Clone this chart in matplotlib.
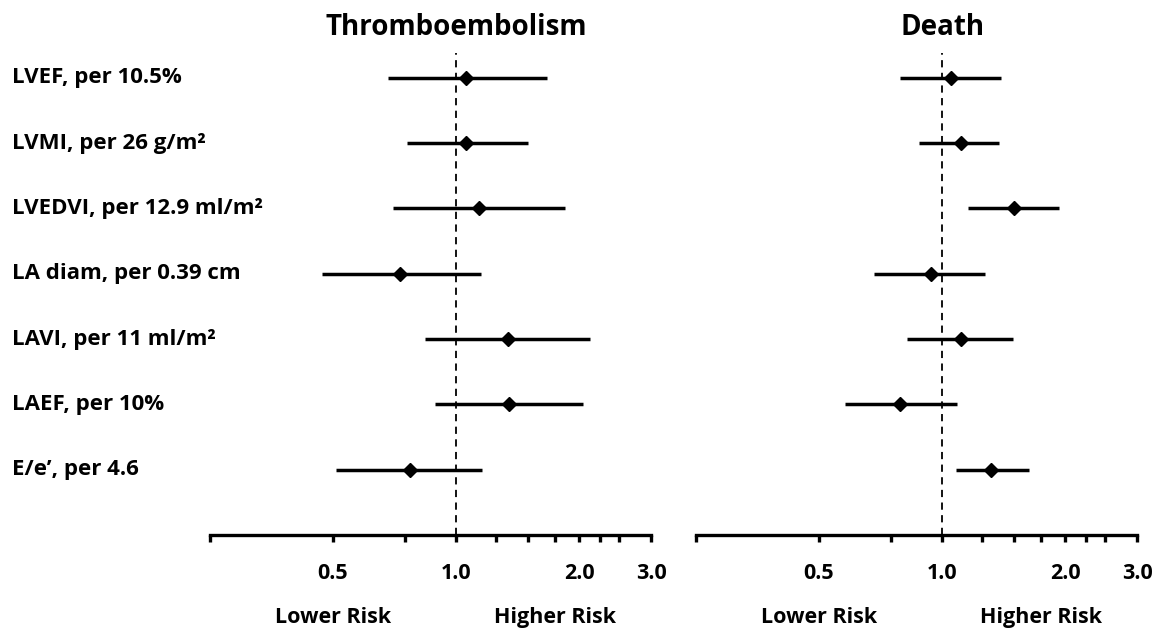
import matplotlib
matplotlib.use("Agg")
import matplotlib.pyplot as plt
import matplotlib.transforms as mtransforms
import numpy as np

plt.rcParams['font.family'] = ['Open Sans', 'DejaVu Sans']
plt.rcParams['font.weight'] = 'bold'

labels = ["LVEF, per 10.5%", "LVMI, per 26 g/m\u00b2", "LVEDVI, per 12.9 ml/m\u00b2",
          "LA diam, per 0.39 cm", "LAVI, per 11 ml/m\u00b2", "LAEF, per 10%",
          "E/e\u2019, per 4.6"]

# thromboembolism: hazard ratio, lower, upper
te_hr = [1.06, 1.06, 1.14, 0.73, 1.34, 1.35, 0.77]
te_lo = [0.68, 0.76, 0.70, 0.47, 0.84, 0.89, 0.51]
te_hi = [1.67, 1.50, 1.85, 1.15, 2.13, 2.05, 1.16]

# death
de_hr = [1.05, 1.11, 1.50, 0.94, 1.11, 0.79, 1.32]
de_lo = [0.79, 0.88, 1.16, 0.68, 0.82, 0.58, 1.08]
de_hi = [1.39, 1.38, 1.93, 1.27, 1.49, 1.09, 1.63]

titles = ["Thromboembolism", "Death"]
tick_vals = [0.25, 0.5, 0.75, 1.0, 1.25, 1.5, 1.75, 2.0, 2.25, 2.5, 3.0]
tick_lbls = ["", "0.5", "", "1.0", "", "", "", "2.0", "", "", "3.0"]

fig = plt.figure(figsize=(11.69, 6.35), dpi=100)
ax1 = fig.add_axes([0.1796, 0.1575, 0.3773, 0.759])
ax2 = fig.add_axes([0.5954, 0.1575, 0.3773, 0.759])

rows = np.arange(1, len(labels) + 1)

for ax, hr, lo, hi, title in [(ax1, te_hr, te_lo, te_hi, titles[0]),
                              (ax2, de_hr, de_lo, de_hi, titles[1])]:
    ax.set_xscale('log')
    ax.set_xlim(0.25, 3.0)
    ax.set_ylim(8, 0.62)
    ax.axvline(1.0, color='black', lw=1.3, ls=(0, (4, 3)), zorder=1)
    ax.hlines(rows, lo, hi, color='black', lw=2.5, zorder=2)
    ax.plot(hr, rows, 'D', color='black', ms=7.5, zorder=3)

    for s in ['top', 'left', 'right']:
        ax.spines[s].set_visible(False)
    ax.spines['bottom'].set_linewidth(2.4)
    ax.set_yticks([])
    ax.xaxis.set_minor_locator(matplotlib.ticker.NullLocator())
    ax.set_xticks(tick_vals)
    ax.set_xticklabels(tick_lbls, fontsize=15.5, fontweight='bold')
    ax.tick_params(axis='x', direction='out', length=5, width=2.4, pad=15)

    trans = mtransforms.blended_transform_factory(ax.transData, fig.transFigure)
    ax.text(1.0, 0.957, title, transform=trans, ha='center', va='center',
            fontsize=20, fontweight='bold')
    ax.text(0.5, 0.028, "Lower Risk", transform=trans, ha='center', va='center',
            fontsize=15.5, fontweight='bold')
    ax.text(1.75, 0.028, "Higher Risk", transform=trans, ha='center', va='center',
            fontsize=15.5, fontweight='bold')

ltrans = mtransforms.blended_transform_factory(fig.transFigure, ax1.transData)
for r, lab in zip(rows, labels):
    ax1.text(0.010, r, lab, transform=ltrans, ha='left', va='center',
             fontsize=16, fontweight='bold')

plt.savefig("out.png", dpi=100)
